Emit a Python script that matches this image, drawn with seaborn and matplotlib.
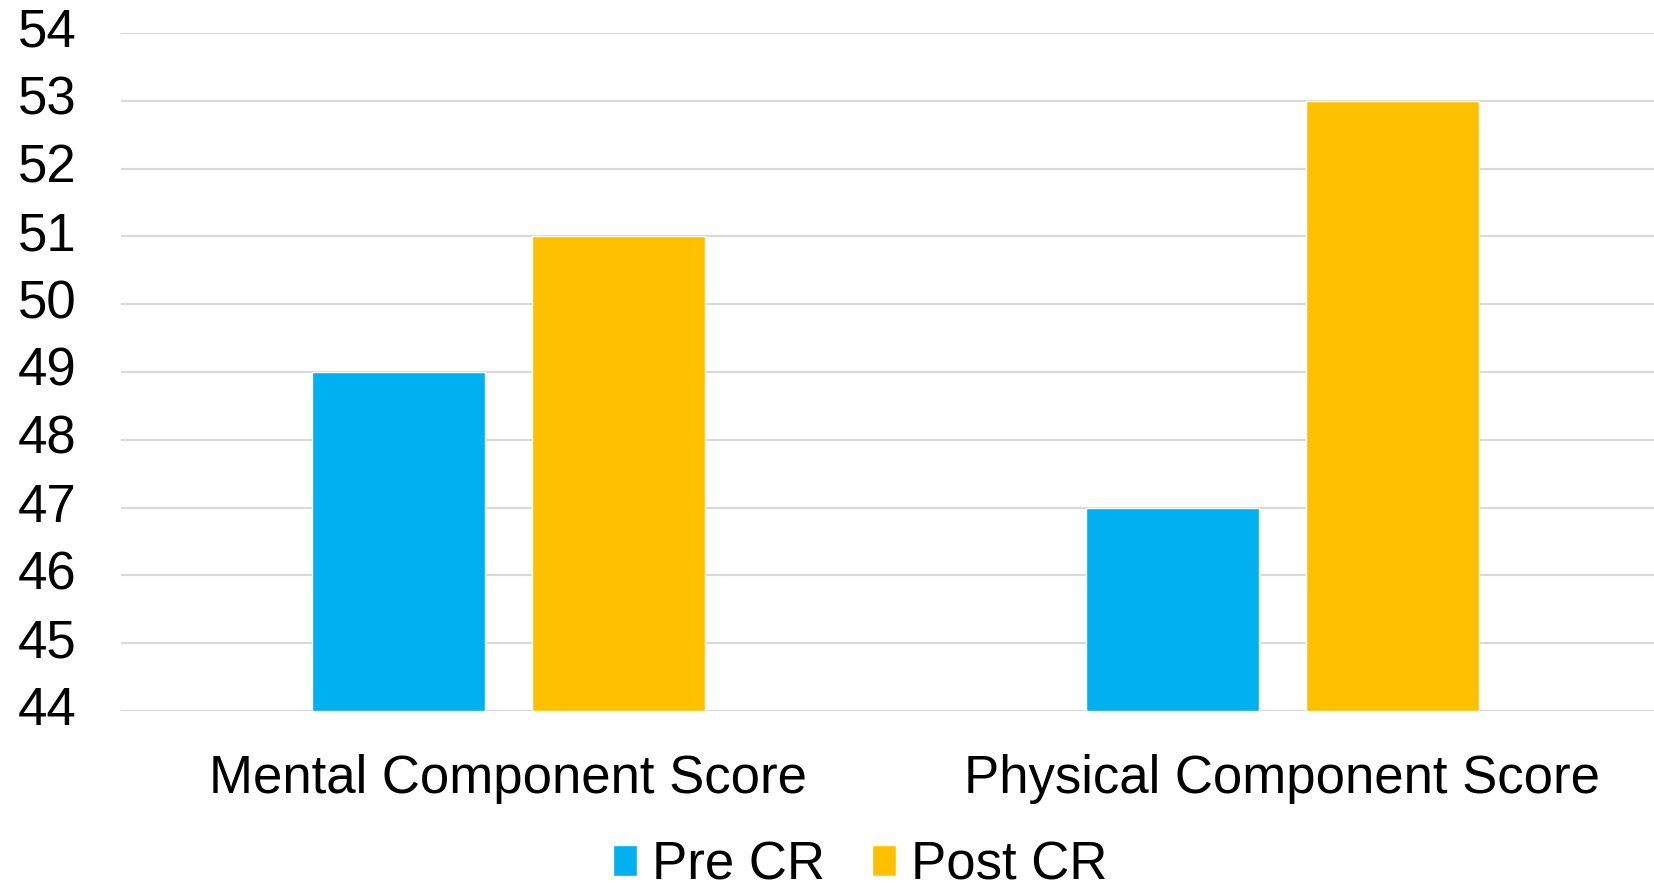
import matplotlib
matplotlib.use("Agg")
import matplotlib.pyplot as plt
import matplotlib.transforms as mtransforms
import seaborn as sns
import pandas as pd

categories = ["Mental Component Score", "Physical Component Score"]
groups = ["Pre CR", "Post CR"]
pre_values = [49, 47]
post_values = [51, 53]
y_ticks = [44, 45, 46, 47, 48, 49, 50, 51, 52, 53, 54]
colors = ["#00B0F0", "#FFC000"]

df = pd.DataFrame({
    "category": categories * 2,
    "group": [groups[0]] * len(categories) + [groups[1]] * len(categories),
    "score": pre_values + post_values,
})

sns.set_theme(style="white")
plt.rcParams["font.family"] = ["Liberation Sans", "DejaVu Sans"]
plt.rcParams["text.color"] = "black"
plt.rcParams["xtick.color"] = "black"
plt.rcParams["ytick.color"] = "black"

W, H = 1654, 883
fig = plt.figure(figsize=(W / 100, H / 100), dpi=100)
ax = fig.add_axes([121 / W, (H - 711) / H, 1 - 121 / W, (711 - 33) / H])

sns.barplot(data=df, x="category", y="score", hue="group", palette=colors,
            width=0.568, gap=0.213, ax=ax, saturation=1, legend=True)

# bars rise from the bottom of the value axis
for p in ax.patches:
    h = p.get_height()
    if h:
        p.set_y(44)
        p.set_height(h - 44)

ax.set_ylim(44, 54)
ax.set_xlim(-0.5, 1.48)
ax.set_yticks(y_ticks)
ax.yaxis.grid(True, color="#d9d9d9", linewidth=1.5)
ax.set_axisbelow(True)
for s in ax.spines.values():
    s.set_visible(False)
ax.tick_params(axis="y", length=0, pad=32, labelsize=38, labelcolor="black")
ax.tick_params(axis="x", length=0, pad=31, labelsize=38, labelcolor="black")
ax.set_xlabel("")
ax.set_ylabel("")

# nudge the value labels up slightly so they sit on their gridlines
shift = mtransforms.ScaledTranslation(0, 4 / 72, fig.dpi_scale_trans)
for lbl in ax.get_yticklabels():
    lbl.set_transform(lbl.get_transform() + shift)

handles, labels = ax.get_legend_handles_labels()
ax.get_legend().remove()
fig.legend(handles, labels, loc="lower center", bbox_to_anchor=(860 / W, -0.062),
           ncol=2, frameon=False, fontsize=38, handlelength=0.45, handleheight=0.5,
           handletextpad=0.28, columnspacing=0.9)

fig.savefig("out.png", dpi=100, facecolor="white")
